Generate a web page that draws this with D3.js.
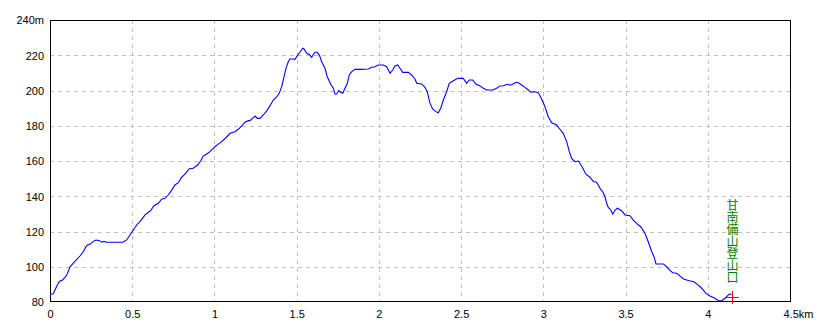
<!DOCTYPE html>
<html><head><meta charset="utf-8">
<script src="https://cdn.jsdelivr.net/npm/d3@7"></script>
<style>body{margin:0;background:#fff}svg{display:block}</style>
</head><body><svg id="c" width="830" height="332"></svg>
<script>
const distKm = [0.000,0.020,0.030,0.050,0.061,0.077,0.091,0.102,0.122,0.142,0.182,0.202,0.219,0.227,0.243,0.263,0.280,0.300,0.314,0.328,0.345,0.444,0.466,0.497,0.527,0.547,0.578,0.598,0.612,0.632,0.659,0.679,0.699,0.719,0.740,0.760,0.780,0.801,0.821,0.845,0.871,0.896,0.916,0.932,0.953,0.973,1.003,1.023,1.044,1.070,1.095,1.125,1.145,1.166,1.186,1.206,1.216,1.236,1.248,1.261,1.277,1.297,1.318,1.338,1.358,1.374,1.394,1.409,1.423,1.435,1.449,1.459,1.480,1.490,1.504,1.520,1.537,1.545,1.561,1.577,1.591,1.611,1.625,1.638,1.652,1.672,1.686,1.707,1.723,1.733,1.743,1.756,1.768,1.780,1.794,1.808,1.820,1.835,1.855,1.895,1.936,1.956,1.976,1.996,2.027,2.047,2.068,2.084,2.098,2.114,2.128,2.145,2.179,2.200,2.220,2.230,2.260,2.280,2.294,2.311,2.327,2.347,2.361,2.376,2.392,2.412,2.428,2.443,2.469,2.483,2.513,2.534,2.550,2.570,2.590,2.615,2.635,2.656,2.692,2.716,2.736,2.757,2.781,2.797,2.814,2.834,2.848,2.868,2.888,2.909,2.923,2.949,2.969,2.990,3.010,3.030,3.051,3.081,3.101,3.121,3.142,3.158,3.172,3.193,3.213,3.233,3.259,3.284,3.304,3.324,3.345,3.361,3.375,3.385,3.395,3.410,3.422,3.436,3.450,3.476,3.497,3.527,3.547,3.571,3.592,3.618,3.638,3.659,3.673,3.685,3.730,3.750,3.766,3.787,3.811,3.835,3.855,3.888,3.916,3.942,3.963,3.989,4.013,4.044,4.064,4.085,4.105,4.125,4.135,4.145];
const elevM = [84.4,84.7,86.8,90.6,91.9,92.5,94.0,95.3,100.0,102.0,106.1,108.5,111.4,112.3,112.7,114.4,115.2,114.8,113.9,114.4,113.9,113.9,115.2,119.4,123.7,125.6,129.4,130.9,131.8,134.6,136.0,138.3,138.8,140.7,143.5,146.4,147.7,150.8,152.6,155.5,155.9,157.6,160.0,162.8,164.0,165.3,168.1,169.6,171.0,173.2,175.7,176.6,178.0,179.9,182.0,182.9,182.9,184.6,185.5,184.2,184.2,186.1,188.4,191.4,194.6,195.9,198.4,202.2,207.8,212.6,216.3,217.9,217.9,217.7,219.8,221.7,224.0,223.6,221.1,220.5,218.8,221.7,221.7,220.1,216.3,212.6,207.8,203.5,201.3,198.0,198.0,199.9,199.0,198.4,201.3,204.1,208.8,210.7,212.0,212.0,212.2,213.2,213.5,214.5,214.5,213.5,209.8,211.6,213.9,214.5,212.6,210.3,210.3,208.8,206.4,204.1,203.7,201.8,199.3,192.7,189.5,188.0,187.4,189.9,194.6,199.3,204.1,205.0,206.4,206.9,206.9,204.1,206.0,206.0,203.7,202.6,201.3,200.3,200.3,201.3,202.6,202.7,203.5,203.0,203.5,204.7,204.4,203.1,201.8,200.3,199.0,199.3,198.8,195.0,190.8,185.1,181.7,180.4,178.0,175.7,171.0,165.3,161.5,159.6,160.0,157.2,152.5,150.8,148.3,147.9,144.5,142.6,139.7,136.0,133.7,132.2,129.9,132.2,133.2,131.8,129.4,129.0,126.5,124.3,122.7,119.0,114.2,108.5,105.7,101.6,101.6,100.0,98.2,96.6,96.3,94.4,92.9,92.1,91.5,89.6,87.8,84.9,83.4,82.1,80.7,80.7,82.1,84.0,84.5,84.4];
const xTicks = [0,0.5,1,1.5,2,2.5,3,3.5,4,4.5];
const xTickLabels = ["0","0.5","1","1.5","2","2.5","3","3.5","4","4.5km"];
const yTicks = [80,100,120,140,160,180,200,220,240];
const yTickLabels = ["80","100","120","140","160","180","200","220","240m"];
const markerKm = [4.149];
const markerElev = [83.0];
const markerName = ["甘南備山登山口"];

const svg = d3.select("#c");
const x = d3.scaleLinear().domain([0,4.5]).range([50,790]);
const y = d3.scaleLinear().domain([80,240]).range([302,20]);
const px = v => Math.round(v) + 0.5;

// grid
const gx = svg.append("g");
gx.selectAll("line.vg").data(xTicks.slice(1,-1)).join("line")
  .attr("x1",d=>px(x(d))).attr("x2",d=>px(x(d)))
  .attr("y1",20).attr("y2",302)
  .attr("stroke","#c0c0c0").attr("stroke-dasharray","4,4");
gx.selectAll("line.hg").data(yTicks.slice(1,-1)).join("line")
  .attr("y1",d=>px(y(d))).attr("y2",d=>px(y(d)))
  .attr("x1",50).attr("x2",790)
  .attr("stroke","#c0c0c0").attr("stroke-dasharray","4,4");

// axes labels via d3 axes
const xAxis = d3.axisBottom(x).tickValues(xTicks).tickSize(0).tickPadding(0)
  .tickFormat((d,i)=>xTickLabels[i]);
const xa = svg.append("g").attr("transform","translate(0,302)").call(xAxis);
xa.select(".domain").remove();
xa.selectAll("text").attr("y",16).attr("dy",null)
  .attr("font-family","'Liberation Sans', Arial, sans-serif").attr("font-size","11px").attr("fill","#000");
xa.selectAll(".tick").filter(d=>d===4.5).select("text").attr("text-anchor","start").attr("x",-7);

const yAxis = d3.axisLeft(y).tickValues(yTicks).tickSize(0).tickPadding(6)
  .tickFormat((d,i)=>yTickLabels[i]);
const ya = svg.append("g").attr("transform","translate(50,0)").call(yAxis);
ya.select(".domain").remove();
ya.selectAll("text").attr("dy","0.36em")
  .attr("font-family","'Liberation Sans', Arial, sans-serif").attr("font-size","11px").attr("fill","#000");

// frame
svg.append("rect").attr("x",50.5).attr("y",20.5).attr("width",740).attr("height",281)
  .attr("fill","none").attr("stroke","#000").attr("stroke-width",1);

// line
const pts = distKm.map((d,i)=>[d,elevM[i]]);
svg.append("path").datum(pts)
  .attr("d", d3.line().x(d=>x(d[0])).y(d=>y(d[1])))
  .attr("fill","none").attr("stroke","#0000ff").attr("stroke-width",1.1);

// marker
markerKm.forEach((k,i)=>{
  const cx = Math.round(x(k)), cy = Math.round(y(markerElev[i]));
  const g = svg.append("g");
  g.append("line").attr("x1",cx-6).attr("x2",cx+7).attr("y1",cy+0.5).attr("y2",cy+0.5).attr("stroke","#ff0000");
  g.append("line").attr("x1",cx+0.5).attr("x2",cx+0.5).attr("y1",cy-6).attr("y2",cy+7).attr("stroke","#ff0000");
  g.append("text")
    .attr("x",cx+0.5).attr("y",cy-98)
    .style("writing-mode","vertical-rl")
    .attr("text-anchor","start")
    .attr("font-family","'Noto Sans CJK JP', sans-serif").attr("font-size","12px")
    .attr("fill","#008000").text(markerName[i]);
});
</script></body></html>
